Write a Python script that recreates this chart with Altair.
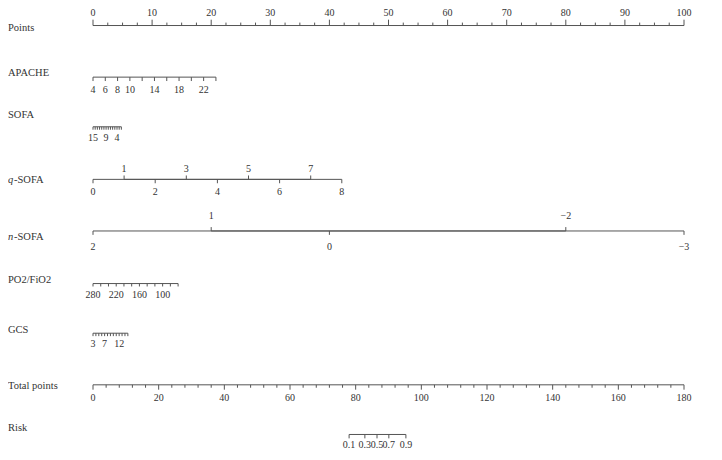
import altair as alt
import pandas as pd

# ---------------- data ----------------
# Points scale
points_major = [0, 10, 20, 30, 40, 50, 60, 70, 80, 90, 100]
points_minor_step = 2.5

# APACHE: value -> points (linear), ticks and labels
apache_anchor = [(4, 0.0), (24, 20.8)]
apache_ticks = [4, 6, 8, 10, 12, 14, 16, 18, 20, 22, 24]
apache_labels = [4, 6, 8, 10, 14, 18, 22]

# SOFA
sofa_anchor = [(15, 0.0), (2, 4.8)]
sofa_ticks = [15, 14, 13, 12, 11, 10, 9, 8, 7, 6, 5, 4, 3, 2]
sofa_labels = [15, 9, 4]

# q-SOFA
qsofa_anchor = [(0, 0.0), (8, 42.1)]
qsofa_up = [1, 3, 5, 7]
qsofa_down = [0, 2, 4, 6, 8]

# n-SOFA
nsofa_anchor = [(2, 0.0), (-3, 100.0)]
nsofa_up = [1, -2]
nsofa_down = [2, 0, -3]

# PO2/FiO2
pf_anchor = [(280, 0.0), (60, 14.4)]
pf_ticks = [280, 260, 240, 220, 200, 180, 160, 140, 120, 100, 80, 60]
pf_labels = [280, 220, 160, 100]

# GCS
gcs_anchor = [(3, 0.0), (15, 5.9)]
gcs_ticks = [3, 4, 5, 6, 7, 8, 9, 10, 11, 12, 13, 14, 15]
gcs_labels = [3, 7, 12]

# Total points
total_max = 180
total_major = [0, 20, 40, 60, 80, 100, 120, 140, 160, 180]
total_minor_step = 4

# Risk: probability -> total points
risk_values = [0.1, 0.3, 0.5, 0.7, 0.9]
risk_total_points = [78.0, 82.8, 86.5, 90.1, 95.3]

# ---------------- layout / style ----------------
W, H = 706, 444
PX_PER_POINT = 5.91
X0 = 85  # plot px of points = 0
FONT = "Liberation Serif"
TXT = "#333333"
LINE = "#555555"

# row geometry in reference-pixel units (y grows downward)
rows = {
    "Points":       dict(name_y=23, line_y=20),
    "APACHE":       dict(name_y=69, line_y=73),
    "SOFA":         dict(name_y=112, line_y=124),
    "q-SOFA":       dict(name_y=179, line_y=178),
    "n-SOFA":       dict(name_y=237, line_y=231),
    "PO2/FiO2":     dict(name_y=281, line_y=285),
    "GCS":          dict(name_y=333, line_y=336),
    "Total points": dict(name_y=390, line_y=389),
    "Risk":         dict(name_y=433, line_y=440),
}


def lin(anchor):
    (v0, p0), (v1, p1) = anchor
    return lambda v: p0 + (v - v0) * (p1 - p0) / (v1 - v0)


def fmt(v):
    s = f"{v:g}"
    return s.replace("-", "\u2212")


lines, ticks, labels = [], [], []


def add_row(row, xs, tick_len, tick_dir, lab_list, lab_off):
    ly = rows[row]["line_y"]
    lines.append(dict(x=min(xs), x2=max(xs), y=ly))
    for x, ln in zip(xs, tick_len):
        ticks.append(dict(x=x, y=ly, y2=ly + tick_dir * ln))
    for x, t in lab_list:
        labels.append(dict(x=x, y=ly + lab_off, text=t))


# Points
n_minor = int(100 / points_minor_step)
pts = [i * points_minor_step for i in range(n_minor + 1)]
add_row("Points", pts, [6 if p in points_major else 3 for p in pts], -1,
        [(p, fmt(p)) for p in points_major], -13)

f = lin(apache_anchor)
add_row("APACHE", [f(v) for v in apache_ticks], [4] * len(apache_ticks), 1,
        [(f(v), fmt(v)) for v in apache_labels], 13)

f = lin(sofa_anchor)
add_row("SOFA", [f(v) for v in sofa_ticks], [3] * len(sofa_ticks), 1,
        [(f(v), fmt(v)) for v in sofa_labels], 12)

f = lin(qsofa_anchor)
add_row("q-SOFA", [f(v) for v in qsofa_down], [4] * len(qsofa_down), 1,
        [(f(v), fmt(v)) for v in qsofa_down], 13)
add_row("q-SOFA", [f(v) for v in qsofa_up], [4] * len(qsofa_up), -1,
        [(f(v), fmt(v)) for v in qsofa_up], -11)

f = lin(nsofa_anchor)
add_row("n-SOFA", [f(v) for v in nsofa_down], [4] * len(nsofa_down), 1,
        [(f(v), fmt(v)) for v in nsofa_down], 16)
add_row("n-SOFA", [f(v) for v in nsofa_up], [4] * len(nsofa_up), -1,
        [(f(v), fmt(v)) for v in nsofa_up], -15)

f = lin(pf_anchor)
add_row("PO2/FiO2", [f(v) for v in pf_ticks], [3] * len(pf_ticks), 1,
        [(f(v), fmt(v)) for v in pf_labels], 12)

f = lin(gcs_anchor)
add_row("GCS", [f(v) for v in gcs_ticks], [3] * len(gcs_ticks), 1,
        [(f(v), fmt(v)) for v in gcs_labels], 11)

tp = lambda t: t * 100.0 / total_max
n_tot = int(total_max / total_minor_step)
tot = [i * total_minor_step for i in range(n_tot + 1)]
add_row("Total points", [tp(t) for t in tot],
        [5 if t in total_major else 3 for t in tot], 1,
        [(tp(t), fmt(t)) for t in total_major], 14)

add_row("Risk", [tp(t) for t in risk_total_points], [4] * len(risk_values), 1,
        [(tp(t), fmt(v)) for t, v in zip(risk_total_points, risk_values)], 11)

names = []
for r, g in rows.items():
    if r in ("q-SOFA", "n-SOFA"):
        names.append(dict(y=g["name_y"], prefix=r[0], rest=r[1:]))
    else:
        names.append(dict(y=g["name_y"], prefix="", rest=r))

df_lines = pd.DataFrame(lines)
df_ticks = pd.DataFrame(ticks)
df_labels = pd.DataFrame(labels)
df_names = pd.DataFrame(names)

xscale = alt.Scale(domain=[-X0 / PX_PER_POINT, (W - X0) / PX_PER_POINT], nice=False, zero=False)
yscale = alt.Scale(domain=[2, 458], reverse=True, nice=False, zero=False)

X = lambda f: alt.X(f, type="quantitative", scale=xscale, axis=None)
Y = lambda f: alt.Y(f, type="quantitative", scale=yscale, axis=None)

line_layer = alt.Chart(df_lines).mark_rule(color=LINE, strokeWidth=1).encode(
    x=X("x"), x2="x2", y=Y("y"))
tick_layer = alt.Chart(df_ticks).mark_rule(color=LINE, strokeWidth=1).encode(
    x=X("x"), y=Y("y"), y2="y2")
label_layer = alt.Chart(df_labels).mark_text(
    font=FONT, fontSize=10, color=TXT, baseline="middle", align="center").encode(
    x=X("x"), y=Y("y"), text="text:N")

df_plain = df_names[df_names["prefix"] == ""]
df_pref = df_names[df_names["prefix"] != ""]
name_layer = alt.Chart(df_plain).mark_text(
    font=FONT, fontSize=10.5, color=TXT, baseline="middle", align="left").encode(
    x=alt.value(0), y=Y("y"), text="rest:N")
pref_layer = alt.Chart(df_pref).mark_text(
    font=FONT, fontSize=10.5, fontStyle="italic", color=TXT, baseline="middle", align="left").encode(
    x=alt.value(0), y=Y("y"), text="prefix:N")
rest_layer = alt.Chart(df_pref).mark_text(
    font=FONT, fontSize=10.5, color=TXT, baseline="middle", align="left", dx=6).encode(
    x=alt.value(0), y=Y("y"), text="rest:N")

chart = alt.layer(line_layer, tick_layer, label_layer, name_layer, pref_layer, rest_layer).properties(
    width=W, height=H, padding=0,
    autosize=alt.AutoSizeParams(type="none"),
).configure_view(stroke=None)

chart.save("out.html", embed_options={"renderer": "svg", "actions": False})
